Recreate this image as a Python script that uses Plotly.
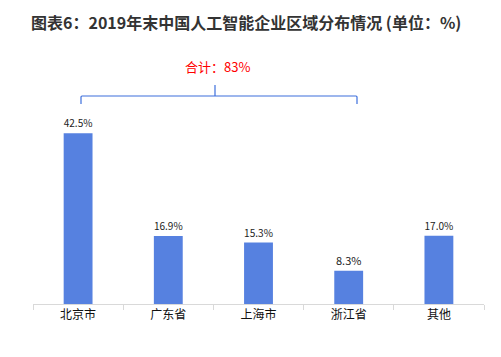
import plotly.graph_objects as go

categories = ["北京市", "广东省", "上海市", "浙江省", "其他"]
values = [42.5, 16.9, 15.3, 8.3, 17.0]
labels = ["42.5%", "16.9%", "15.3%", "8.3%", "17.0%"]
title_text = "图表6：2019年末中国人工智能企业区域分布情况 (单位：%)"
sum_text = "合计：83%"

FONT = "Noto Sans CJK SC, Microsoft YaHei, sans-serif"

# page body has an 8px default margin; compensate
OFF = 8
W, H = 501 - OFF, 357 - OFF
ml, mr = 33 - OFF, 501 - 484
mt, mb = 103 - OFF, 357 - 304

pw = W - ml - mr
ph = H - mt - mb

def px_x(px):
    return (px - OFF - ml) / pw

def px_y(py):
    return (H - mb - (py - OFF)) / ph

fig = go.Figure()
fig.add_trace(go.Bar(
    x=categories, y=values, text=labels, textposition="outside",
    textfont=dict(size=11, color="#222222", family=FONT),
    marker=dict(color="#5681E0", line=dict(width=0)),
    width=0.32, cliponaxis=False,
))

brace_color = "#3D6FDC"
shapes = [
    dict(type="path", xref="paper", yref="paper",
         path=f"M {px_x(81)} {px_y(104)} L {px_x(81)} {px_y(97)} Q {px_x(81)} {px_y(96)} {px_x(82)} {px_y(96)} "
              f"L {px_x(356)} {px_y(96)} Q {px_x(357)} {px_y(96)} {px_x(357)} {px_y(97)} "
              f"L {px_x(357)} {px_y(104)}",
         line=dict(color=brace_color, width=1.2)),
    dict(type="line", xref="paper", yref="paper",
         x0=px_x(215), x1=px_x(215), y0=px_y(96), y1=px_y(85),
         line=dict(color=brace_color, width=1.2)),
]

fig.update_layout(
    width=W, height=H,
    margin=dict(l=ml, r=mr, t=mt, b=mb),
    paper_bgcolor="white", plot_bgcolor="white",
    showlegend=False,
    shapes=shapes,
    annotations=[
        dict(text=f"<b>{title_text}</b>", xref="paper", yref="paper",
             x=px_x(246), y=px_y(22), xanchor="center", yanchor="middle",
             showarrow=False, font=dict(size=16, color="#333333", family=FONT)),
        dict(text=sum_text, xref="paper", yref="paper",
             x=px_x(217), y=px_y(67), xanchor="center", yanchor="middle",
             showarrow=False, font=dict(size=13, color="#FF0000", family=FONT)),
    ],
    xaxis=dict(
        showline=True, linecolor="#D9D9D9", linewidth=1,
        ticks="outside", tickson="boundaries", ticklen=5, tickcolor="#D9D9D9",
        tickfont=dict(size=12, color="#111111", family=FONT),
        showgrid=False,
    ),
    yaxis=dict(range=[0, 50], visible=False, showgrid=False, zeroline=False),
)

fig.write_html("out.html")
